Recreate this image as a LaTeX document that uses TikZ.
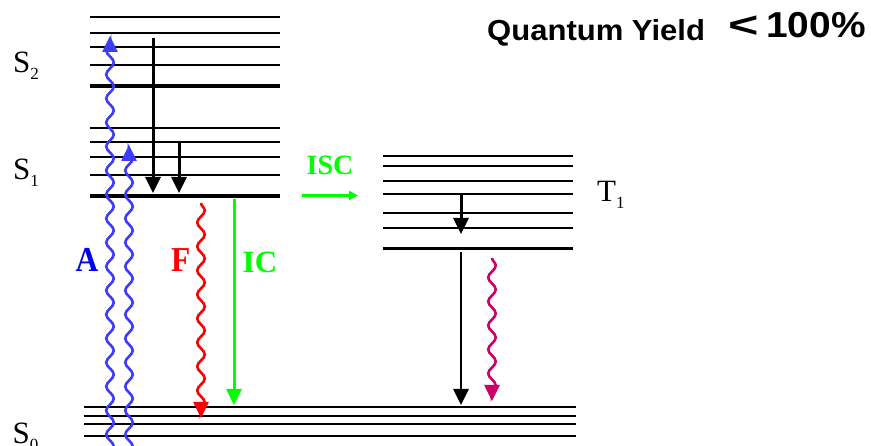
\documentclass[tikz,border=0pt]{standalone}
\usepackage{fontspec}
\setmainfont{Liberation Serif}
\setsansfont{Liberation Sans}
\usetikzlibrary{arrows.meta,decorations.pathmorphing}
\definecolor{waveblue}{RGB}{60,60,250}
\definecolor{labelblue}{RGB}{0,0,235}
\definecolor{brightgreen}{RGB}{0,255,0}
\definecolor{brightred}{RGB}{255,0,0}
\definecolor{phosmag}{RGB}{204,0,102}
\tikzset{
  thinlevel/.style={line width=2.2pt},
  thicklevel/.style={line width=3.6pt},
  groundlevel/.style={line width=2pt},
  bigtip/.style={-{Triangle[length=16pt,width=15pt]}},
  relax/.style={bigtip, line width=3pt, black},
  wavy/.style={bigtip, line width=2.6pt, decorate,
    decoration={snake, amplitude=3.8pt, segment length=24pt, post length=3pt}},
  statelabel/.style={inner sep=0pt, anchor=base west, font=\fontsize{31}{31}\selectfont},
  proclabel/.style={inner sep=0pt, anchor=base west, font=\bfseries},
}
\newcommand{\sublow}[1]{\raisebox{-7pt}{\fontsize{17}{17}\selectfont #1}}
\begin{document}
\begin{tikzpicture}[x=1pt,y=-1pt]
\useasboundingbox (0,0) rectangle (871,446);
% S2 levels
\foreach \yy in {17.3,32.7,46.7,64.7} \draw[thinlevel] (90,\yy) -- (280,\yy);
\draw[thicklevel] (90,86) -- (280,86);
% S1 levels
\foreach \yy in {127.7,141.7,156.7,174.7} \draw[thinlevel] (90,\yy) -- (280,\yy);
\draw[thicklevel] (90,196) -- (280,196);
% T1 levels
\foreach \yy in {155.7,165.7,180.7,194.3,212.7,227.7} \draw[thinlevel] (383,\yy) -- (573,\yy);
\draw[thicklevel] (383,248.7) -- (573,248.7);
% S0 levels
\foreach \yy in {406.7,415.7,424.5,435.7} \draw[groundlevel] (84,\yy) -- (576,\yy);

% state labels
\node[statelabel] (s2) at (13,73) {S\sublow{2}};
\node[statelabel] (s1) at (13,180) {S\sublow{1}};
\node[statelabel] (s0) at (12.5,444) {S\sublow{0}};
\node[statelabel] (t1) at (597,201.5) {T\sublow{1}};

% coordinates of transitions
\coordinate (a1s) at (110,466); \coordinate (a1e) at (110,36);
\coordinate (a2s) at (129,466); \coordinate (a2e) at (129,145);
\coordinate (r1s) at (153,38);  \coordinate (r1e) at (153,193);
\coordinate (r2s) at (179,143); \coordinate (r2e) at (179,193);
\coordinate (fs) at (201,203);  \coordinate (fe) at (201,418);
\coordinate (ics) at (234,199); \coordinate (ice) at (234,405);
\coordinate (iscs) at (302,195.5); \coordinate (isce) at (358,195.5);
\coordinate (r3s) at (461,194); \coordinate (r3e) at (461,234);
\coordinate (r4s) at (461,252); \coordinate (r4e) at (461,405);
\coordinate (ps) at (492,258);  \coordinate (pe) at (492,401);

% absorption
\draw[wavy, waveblue] (a1s) -- (a1e);
\draw[wavy, waveblue] (a2s) -- (a2e);
% vibrational relaxation
\draw[relax] (r1s) -- (r1e);
\draw[relax] (r2s) -- (r2e);
\draw[relax] (r3s) -- (r3e);
\draw[bigtip, line width=2.6pt] (r4s) -- (r4e);
% fluorescence
\draw[wavy, brightred] (fs) -- (fe);
% internal conversion
\draw[bigtip, line width=3pt, brightgreen] (ics) -- (ice);
% ISC
\draw[-{Triangle[length=9pt,width=9pt]}, line width=2.7pt, brightgreen] (iscs) -- (isce);
% phosphorescence
\draw[wavy, phosmag] (ps) -- (pe);

% process labels
\node[proclabel, text=labelblue, font=\bfseries\fontsize{35}{35}\selectfont] (la) at (75.5,271.7) {\scalebox{0.9}[1]{A}};
\node[proclabel, text=brightred, font=\bfseries\fontsize{35}{35}\selectfont] (lf) at (171,271.7) {\scalebox{0.9}[1]{F}};
\node[proclabel, text=brightgreen, font=\bfseries\fontsize{31}{31}\selectfont] (lic) at (242.5,272.7) {IC};
\node[proclabel, text=brightgreen, font=\bfseries\fontsize{28}{28}\selectfont] (lisc) at (306.5,175) {ISC};

% title
\node[inner sep=0pt, anchor=base west, font=\sffamily\bfseries\fontsize{29}{29}\selectfont] (qy) at (487,41)
  {\scalebox{1.07}[1]{Quantum Yield}};
\node[inner sep=0pt, anchor=base east, font=\sffamily\bfseries\fontsize{36}{36}\selectfont] (pct) at (866,38)
  {\scalebox{1.45}[1]{<}\hspace{7pt}\scalebox{1.08}[1]{100\%}};
\end{tikzpicture}
\end{document}
